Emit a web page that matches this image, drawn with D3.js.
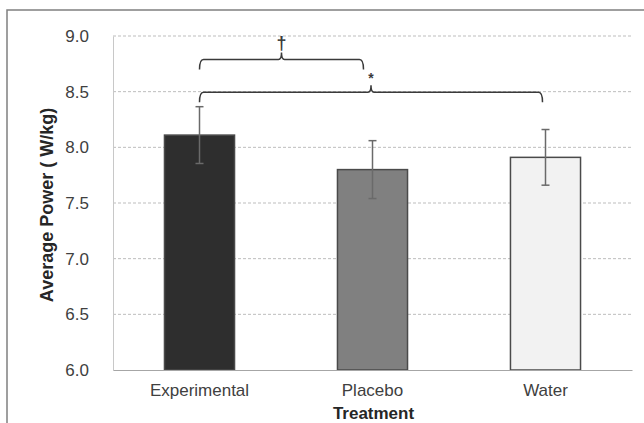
<!DOCTYPE html>
<html>
<head>
<meta charset="utf-8">
<script src="https://cdn.jsdelivr.net/npm/d3@7"></script>
<style>
  body { margin: 0; background: #fff; }
  svg { display: block; font-family: "Liberation Sans", Arial, sans-serif; }
</style>
</head>
<body>
<svg id="chart"></svg>
<script>
const width = 644;
const height = 423;

// Data.
const categories = ["Experimental", "Placebo", "Water"];
const means = [8.11, 7.80, 7.91];
const errors = [0.255, 0.26, 0.25];
const barColors = ["#2e2e2e", "#808080", "#f2f2f2"];
const yTicks = [6.0, 6.5, 7.0, 7.5, 8.0, 8.5, 9.0];
// Significance brackets: from / to category, level, label.
const bracketFrom = ["Experimental", "Experimental"];
const bracketTo = ["Placebo", "Water"];
const bracketLevel = [8.79, 8.495];
const bracketLabel = ["\u2020", "*"];

const margin = {top: 36, right: 12, bottom: 53, left: 113};

const svg = d3.select("#chart")
  .attr("width", width)
  .attr("height", height);

// Outer frame (only top and left edges show in the crop).
svg.append("rect")
  .attr("x", 7)
  .attr("y", 10)
  .attr("width", width + 20)
  .attr("height", height + 20)
  .attr("fill", "none")
  .attr("stroke", "#808080")
  .attr("stroke-width", 1.5);

const xScale = d3.scaleBand()
  .domain(categories)
  .range([margin.left, width - margin.right])
  .paddingInner(0.595)
  .paddingOuter(0.2975);

const yScale = d3.scaleLinear()
  .domain([6, 9])
  .range([height - margin.bottom, margin.top]);

// Grid lines.
svg.append("g")
  .selectAll("line")
  .data(yTicks.filter(t => t > 6))
  .join("line")
  .attr("x1", margin.left)
  .attr("x2", width - margin.right)
  .attr("y1", d => yScale(d))
  .attr("y2", d => yScale(d))
  .attr("stroke", "#bdbdbd")
  .attr("stroke-width", 1)
  .attr("stroke-dasharray", "3,2");

// Y axis.
const yAxis = g => g
  .attr("transform", `translate(${margin.left},0)`)
  .call(d3.axisLeft(yScale).tickValues(yTicks).tickFormat(d3.format(".1f")).tickSize(0).tickPadding(24))
  .call(g => g.select(".domain").attr("stroke", "#c8c8c8"))
  .call(g => g.selectAll("text")
      .attr("font-size", 17)
      .attr("font-family", "Liberation Sans, Arial, sans-serif")
      .attr("fill", "#404040"));
svg.append("g").call(yAxis);

// Bars.
svg.append("g")
  .selectAll("rect")
  .data(categories)
  .join("rect")
  .attr("x", d => xScale(d))
  .attr("y", (d, i) => yScale(means[i]))
  .attr("width", xScale.bandwidth())
  .attr("height", (d, i) => yScale(6) - yScale(means[i]))
  .attr("fill", (d, i) => barColors[i])
  .attr("stroke", "#4a4a4a")
  .attr("stroke-width", 1.5);

// X axis.
const xAxis = g => g
  .attr("transform", `translate(0,${height - margin.bottom})`)
  .call(d3.axisBottom(xScale).tickSize(0).tickPadding(14))
  .call(g => g.select(".domain").attr("stroke", "#a6a6a6").attr("stroke-width", 1.2))
  .call(g => g.selectAll("text")
      .attr("font-size", 17)
      .attr("font-family", "Liberation Sans, Arial, sans-serif")
      .attr("fill", "#404040"));
svg.append("g").call(xAxis);

// Error bars.
const errG = svg.append("g")
  .attr("stroke", "#6a6a6a")
  .attr("stroke-width", 1.5);
categories.forEach((c, i) => {
  const cx = xScale(c) + xScale.bandwidth() / 2;
  const top = yScale(means[i] + errors[i]);
  const bot = yScale(means[i] - errors[i]);
  errG.append("line").attr("x1", cx).attr("x2", cx).attr("y1", top).attr("y2", bot);
  errG.append("line").attr("x1", cx - 4).attr("x2", cx + 4).attr("y1", top).attr("y2", top);
  errG.append("line").attr("x1", cx - 4).attr("x2", cx + 4).attr("y1", bot).attr("y2", bot);
});

// Significance brackets.
function bracketPath(x1, x2, y) {
  const xm = (x1 + x2) / 2;
  const drop = 10, peak = 7, r = 4;
  return `M${x1},${y + drop} Q${x1},${y} ${x1 + r},${y}` +
    ` L${xm - 3},${y} Q${xm},${y} ${xm},${y - peak}` +
    ` Q${xm},${y} ${xm + 3},${y} L${x2 - r},${y}` +
    ` Q${x2},${y} ${x2},${y + drop}`;
}
const brG = svg.append("g");
bracketFrom.forEach((f, i) => {
  const x1 = xScale(f) + xScale.bandwidth() / 2;
  const x2 = xScale(bracketTo[i]) + xScale.bandwidth() / 2 - (i == 0 ? 9 : 3);
  const y = yScale(bracketLevel[i]);
  brG.append("path")
    .attr("d", bracketPath(x1, x2, y))
    .attr("fill", "none")
    .attr("stroke", "#3a3a3a")
    .attr("stroke-width", 1.5);
  brG.append("text")
    .attr("x", (x1 + x2) / 2)
    .attr("y", y - (i == 0 ? 10 : 9))
    .attr("text-anchor", "middle")
    .attr("font-size", i == 0 ? 18 : 14)
    .attr("font-weight", "bold")
    .attr("fill", "#3a3a3a")
    .text(bracketLabel[i]);
});

// Axis titles.
svg.append("text")
  .attr("transform", `translate(53,${(yScale(6) + yScale(9)) / 2 + 2}) rotate(-90)`)
  .attr("text-anchor", "middle")
  .attr("font-size", 18)
  .attr("font-weight", "bold")
  .attr("fill", "#262626")
  .text("Average Power ( W/kg)");

svg.append("text")
  .attr("x", (margin.left + width - margin.right) / 2 + 1)
  .attr("y", 419)
  .attr("text-anchor", "middle")
  .attr("font-size", 17)
  .attr("font-weight", "bold")
  .attr("fill", "#262626")
  .text("Treatment");
</script>
</body>
</html>
